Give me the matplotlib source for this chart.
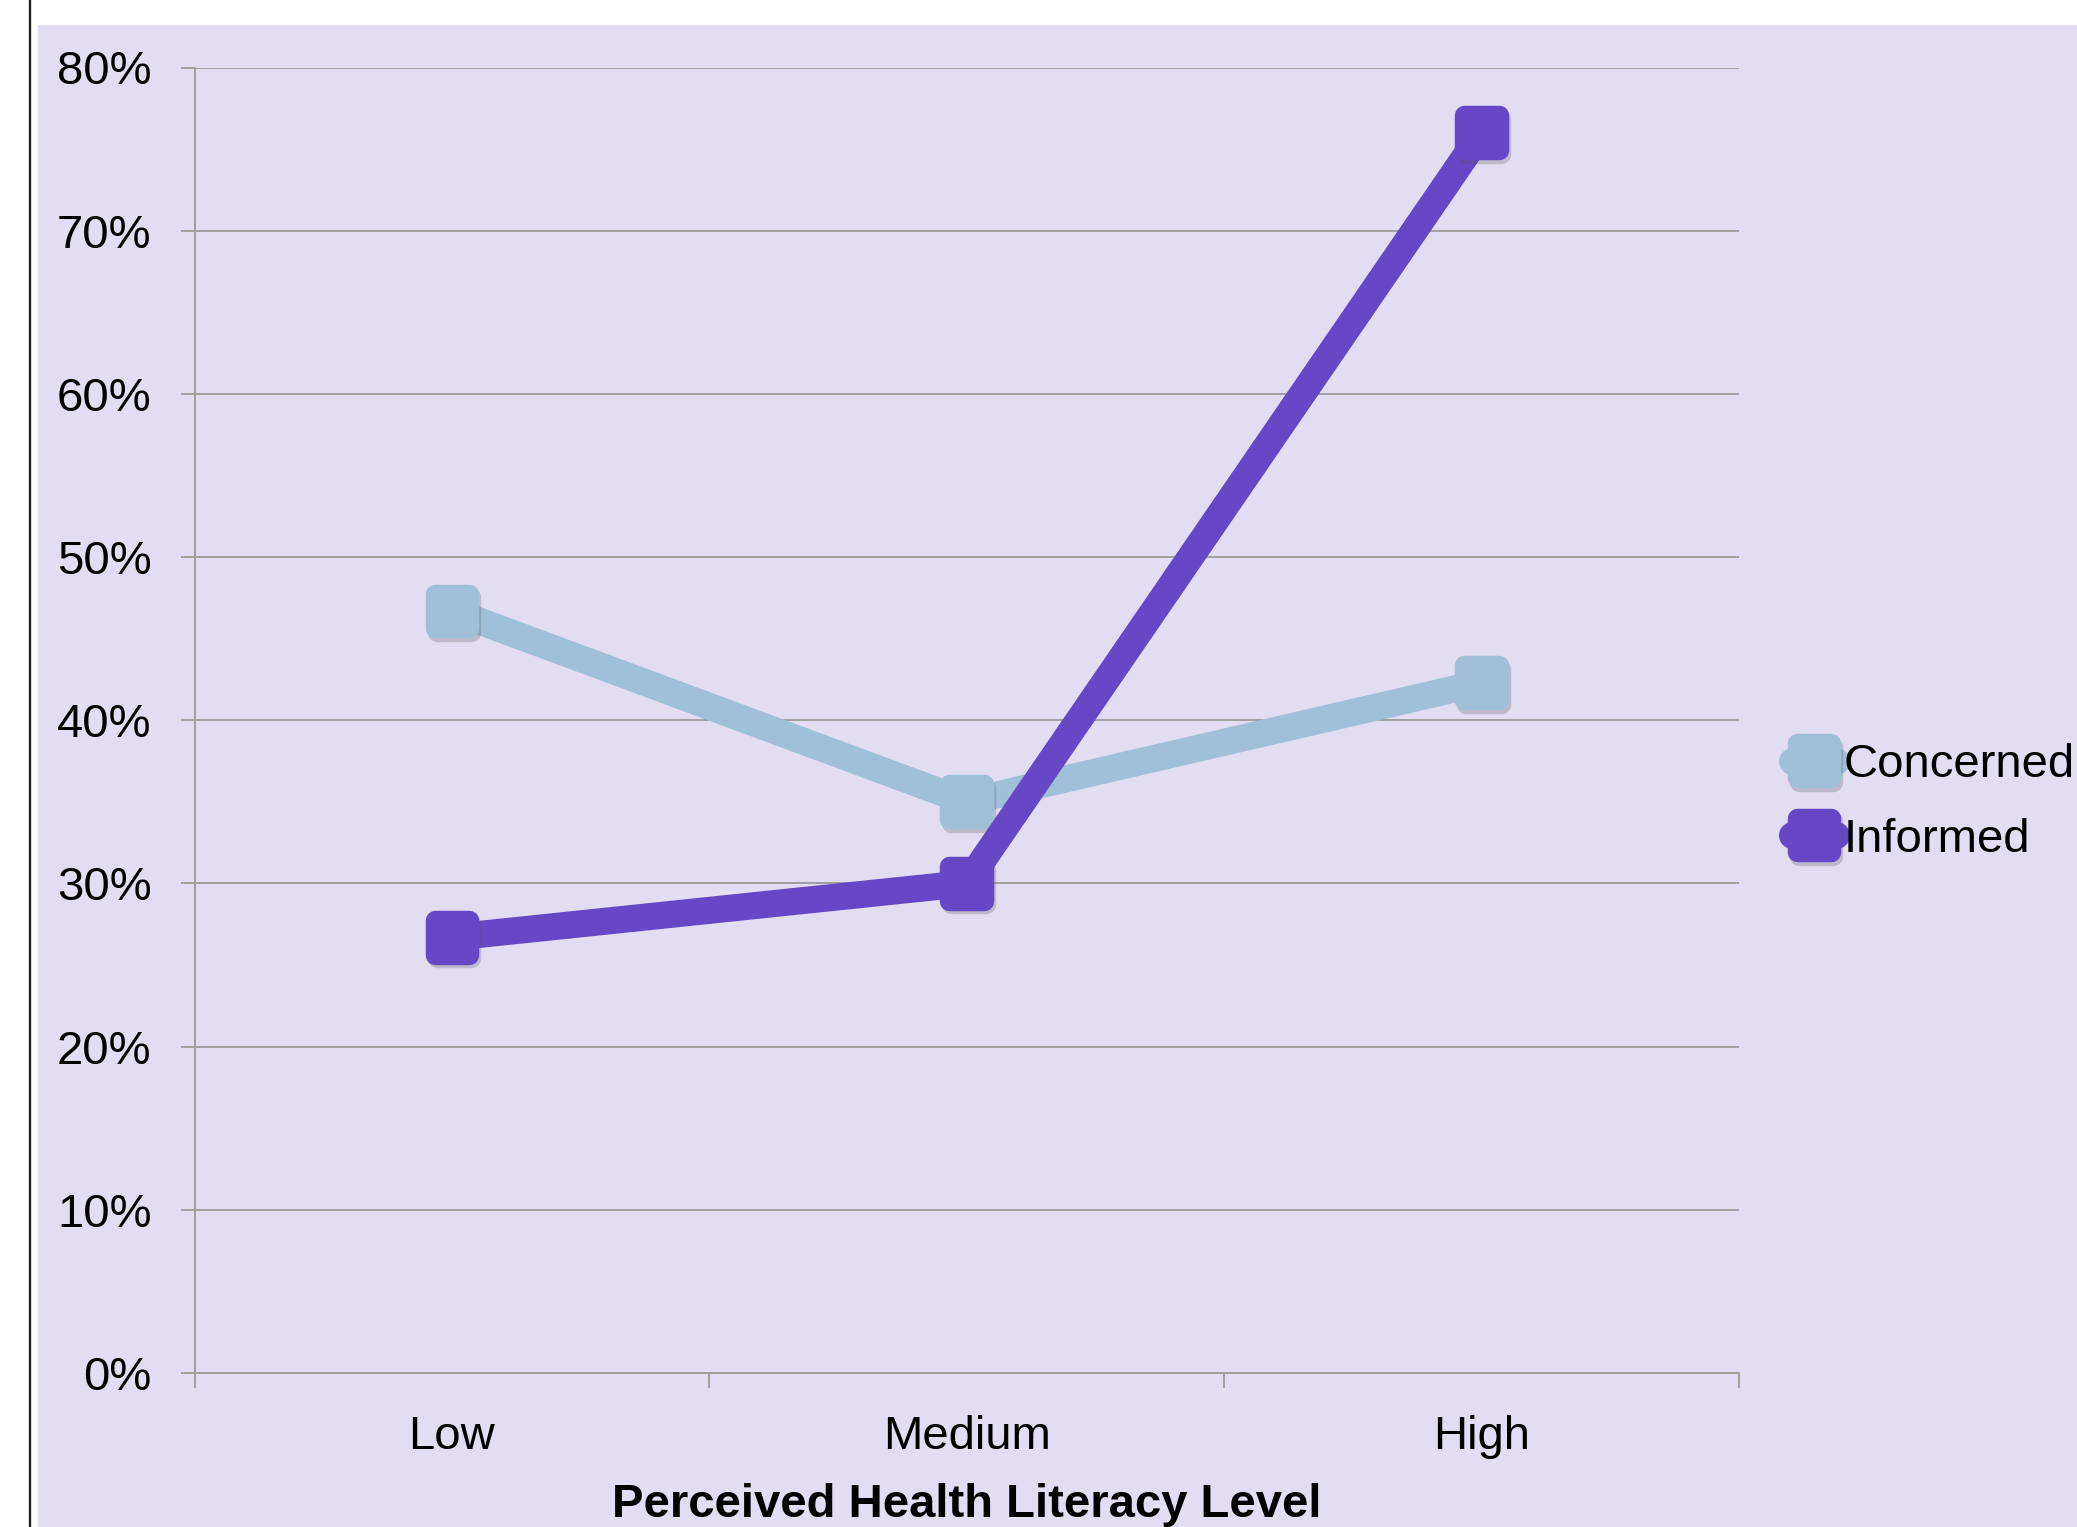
import matplotlib.pyplot as plt
import matplotlib.patheffects as pe
from matplotlib.markers import MarkerStyle
from matplotlib.patches import Rectangle
from matplotlib.lines import Line2D
from matplotlib.ticker import FuncFormatter

plt.rcParams['font.family'] = ['Liberation Sans', 'DejaVu Sans']

# datos
niveles = ['Low', 'Medium', 'High']
concerned = [46.7, 35.0, 42.3]
informed = [26.7, 30.0, 76.0]
series = ['Concerned', 'Informed']
colores = ['#A0C0D8', '#6648C6']

fondo = '#E2DDF3'
gris = '#A0A0A0'

fig = plt.figure(figsize=(20.77, 15.27), dpi=100)
fig.patch.set_facecolor('white')

# fondo lila y linea negra a la izquierda
fig.patches.append(Rectangle((38/2077, 0), 1 - 38/2077, 1 - 25/1527,
                             transform=fig.transFigure, color=fondo, zorder=-10))
fig.lines.append(Line2D([29.5/2077, 29.5/2077], [0, 1], transform=fig.transFigure,
                        color='#222222', lw=1.7, zorder=-10))

ax = fig.add_axes([194.5/2077, 154/1527, 1544.5/2077, 1305.5/1527])
ax.set_facecolor('none')
ax.set_zorder(1)

x = list(range(len(niveles)))
sombra = [pe.SimplePatchShadow(offset=(1.5, -2.5), shadow_rgbFace='#555555', alpha=0.25),
          pe.SimpleLineShadow(offset=(1.5, -2.5), shadow_color='#555555', alpha=0.25),
          pe.Normal()]
marcador = MarkerStyle('s', joinstyle='round')

handles = []
for nombre, valores, color in zip(series, [concerned, informed], colores):
    y = [v / 100 for v in valores]
    linea, = ax.plot(x, y, color=color, lw=19.5, solid_capstyle='round',
                     solid_joinstyle='round', zorder=3)
    marcas, = ax.plot(x, y, ls='none', marker=marcador, markersize=25, mew=14,
                      color=color, mec=color, zorder=3, path_effects=sombra)
    handles.append((linea, marcas))

ax.set_xlim(-0.5, 2.5)
ax.set_ylim(0, 0.8)
ax.set_yticks([i / 10 for i in range(9)])
ax.yaxis.set_major_formatter(FuncFormatter(lambda v, p: f'{v*100:.0f}%'))
ax.grid(axis='y', color=gris, lw=1.4)
ax.set_axisbelow(True)

ax.set_xticks(x)
ax.set_xticklabels(niveles)
ax.set_xticks([-0.5, 0.5, 1.5, 2.5], minor=True)
ax.tick_params(axis='x', which='major', length=0, pad=30, labelsize=34)
ax.tick_params(axis='x', which='minor', length=11, width=1.4, color=gris)
ax.tick_params(axis='y', length=10, width=1.4, color=gris, pad=21, labelsize=34)

for s in ['top', 'right']:
    ax.spines[s].set_visible(False)
for s in ['left', 'bottom']:
    ax.spines[s].set_color(gris)
    ax.spines[s].set_linewidth(1.4)

ax.set_xlabel('Perceived Health Literacy Level', fontsize=34, fontweight='bold')
ax.xaxis.set_label_coords(0.5, -0.084)

ax.legend(handles, series, loc='center left', bbox_to_anchor=(1.034, 0.437),
          frameon=False, fontsize=34, handlelength=0.95, handletextpad=0.15,
          borderpad=0, borderaxespad=0, labelspacing=0.64)

fig.savefig('out.png', dpi=100, facecolor=fig.get_facecolor())
